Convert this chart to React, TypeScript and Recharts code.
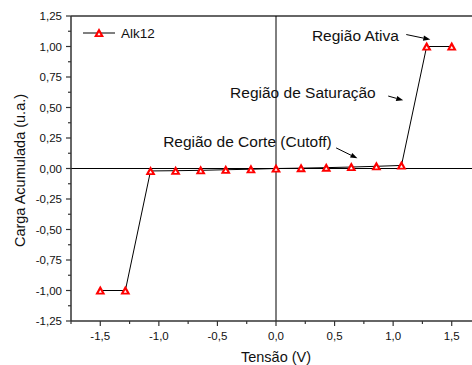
import React from 'react';
import {
  ComposedChart,
  Line,
  XAxis,
  YAxis,
  ReferenceLine,
  ReferenceDot,
  Legend
} from 'recharts';

// Tensão (V) x Carga acumulada (u.a.) - série Alk12
const tensao = [-1.5, -1.286, -1.071, -0.857, -0.643, -0.429, -0.214, 0, 0.214, 0.429, 0.643, 0.857, 1.071, 1.286, 1.5];
const carga = [-1, -1, -0.02, -0.018, -0.015, -0.01, -0.006, 0, 0.003, 0.007, 0.012, 0.018, 0.025, 1, 1];

const xTicks = [-1.75, -1.5, -1.25, -1, -0.75, -0.5, -0.25, 0, 0.25, 0.5, 0.75, 1, 1.25, 1.5, 1.75];
const yTicks = [
  -1.25, -1.125, -1, -0.875, -0.75, -0.625, -0.5, -0.375, -0.25, -0.125, 0,
  0.125, 0.25, 0.375, 0.5, 0.625, 0.75, 0.875, 1, 1.125, 1.25
];

const regioes = [
  { texto: 'Região Ativa', x: 0.678, y: 1.047, de: [1.112, 1.098], ate: [1.317, 1.057] },
  { texto: 'Região de Saturação', x: 0.23, y: 0.578, de: [0.958, 0.594], ate: [1.086, 0.559] },
  { texto: 'Região de Corte (Cutoff)', x: -0.244, y: 0.177, de: [0.513, 0.169], ate: [0.695, 0.083] }
];

const data = tensao.map((t, i) => ({ tensao: t, carga: carga[i] }));

const FONT = 'Arial, "Liberation Sans", sans-serif';
const AXIS = '#333';

const isMult = (v: number, step: number) => Math.abs(v / step - Math.round(v / step)) < 1e-6;

const XTick = (props: any) => {
  const { x, y, payload } = props;
  const major = isMult(payload.value, 0.5);
  return (
    <g>
      <line x1={x} y1={y} x2={x} y2={y + (major ? 5 : 3)} stroke={AXIS} strokeWidth={1.2} />
      {major && (
        <text x={x} y={y + 19} textAnchor="middle" fontSize={11.5} fontFamily={FONT} fill="#111">
          {payload.value.toFixed(1).replace('.', ',')}
        </text>
      )}
    </g>
  );
};

const YTick = (props: any) => {
  const { x, y, payload } = props;
  const major = isMult(payload.value, 0.25);
  return (
    <g>
      <line x1={x} y1={y} x2={x - (major ? 5 : 3)} y2={y} stroke={AXIS} strokeWidth={1.2} />
      {major && (
        <text x={x - 9} y={y + 4} textAnchor="end" fontSize={11.5} fontFamily={FONT} fill="#111">
          {payload.value.toFixed(2).replace('.', ',')}
        </text>
      )}
    </g>
  );
};

const Triangulo = ({ cx, cy }: { cx: number; cy: number }) => (
  <g>
    <polygon points={`${cx},${cy - 5} ${cx - 5},${cy + 4} ${cx + 5},${cy + 4}`} fill="#ff0000" />
    <polygon points={`${cx},${cy - 0.5} ${cx - 1.6},${cy + 2.2} ${cx + 1.6},${cy + 2.2}`} fill="#fff" />
  </g>
);

const Seta = (props: any) => {
  const { x1, y1, x2, y2 } = props;
  const ang = Math.atan2(y2 - y1, x2 - x1);
  const len = 7;
  const w = 2.6;
  const bx = x2 - len * Math.cos(ang);
  const by = y2 - len * Math.sin(ang);
  const px = -Math.sin(ang) * w;
  const py = Math.cos(ang) * w;
  return (
    <g>
      <line x1={x1} y1={y1} x2={bx} y2={by} stroke="#000" strokeWidth={1} />
      <polygon points={`${x2},${y2} ${bx + px},${by + py} ${bx - px},${by - py}`} fill="#000" />
    </g>
  );
};

const Legenda = () => (
  <svg width={90} height={20}>
    <line x1={0} y1={9} x2={32} y2={9} stroke="#000" strokeWidth={1} />
    <Triangulo cx={16} cy={9} />
    <text x={38} y={14} fontSize={13.5} fontFamily={FONT} fill="#111">Alk12</text>
  </svg>
);

const YTitle = (props: any) => {
  const { viewBox } = props;
  const cy = viewBox.y + viewBox.height / 2 + 2;
  return (
    <text
      x={25}
      y={cy}
      transform={`rotate(-90 25 ${cy})`}
      textAnchor="middle"
      fontSize={14.5}
      fontFamily={FONT}
      fill="#111"
    >
      Carga Acumulada (u.a.)
    </text>
  );
};

const XTitle = (props: any) => {
  const { viewBox } = props;
  return (
    <text x={276} y={viewBox.y + 41} textAnchor="middle" fontSize={14.5} fontFamily={FONT} fill="#111">
      Tensão (V)
    </text>
  );
};

export default function App() {
  return (
    <div
      style={{
        position: 'fixed',
        left: 0,
        top: 0,
        width: 472,
        height: 365,
        overflow: 'hidden',
        background: '#fff'
      }}
    >
      <ComposedChart width={481} height={365} data={data} margin={{ top: 16, right: 0, bottom: 0, left: 0 }}>
        <XAxis
          dataKey="tensao"
          type="number"
          domain={[-1.75, 1.75]}
          ticks={xTicks}
          interval={0}
          height={44}
          tickSize={0}
          tickMargin={0}
          tickLine={false}
          tick={<XTick />}
          axisLine={{ stroke: AXIS, strokeWidth: 1.5 }}
          label={<XTitle />}
        />
        <YAxis
          type="number"
          domain={[-1.25, 1.25]}
          ticks={yTicks}
          interval={0}
          width={71}
          tickSize={0}
          tickMargin={0}
          tickLine={false}
          tick={<YTick />}
          axisLine={{ stroke: AXIS, strokeWidth: 1.5 }}
          label={<YTitle />}
        />
        <ReferenceLine y={1.25} stroke={AXIS} strokeWidth={1.5} />
        <ReferenceLine y={0} stroke="#000" strokeWidth={1} />
        <ReferenceLine x={0} stroke="#000" strokeWidth={1} />
        {regioes.map((r) => (
          <ReferenceLine
            key={`seta-${r.texto}`}
            segment={[
              { x: r.de[0], y: r.de[1] },
              { x: r.ate[0], y: r.ate[1] }
            ]}
            shape={Seta}
          />
        ))}
        {regioes.map((r) => (
          <ReferenceDot
            key={`txt-${r.texto}`}
            x={r.x}
            y={r.y}
            shape={(p: any) => (
              <text x={p.cx} y={p.cy} textAnchor="middle" fontSize={15.5} fontFamily={FONT} fill="#111">
                {r.texto}
              </text>
            )}
          />
        ))}
        <Line
          dataKey="carga"
          name="Alk12"
          type="linear"
          stroke="#000"
          strokeWidth={1}
          isAnimationActive={false}
          dot={(p: any) => <Triangulo key={`pt-${p.index}`} cx={p.cx} cy={p.cy} />}
          activeDot={false}
        />
        <Legend
          layout="horizontal"
          verticalAlign="middle"
          align="center"
          content={<Legenda />}
          wrapperStyle={{ position: 'absolute', left: 83, top: 24, width: 90, height: 20 }}
        />
      </ComposedChart>
    </div>
  );
}
